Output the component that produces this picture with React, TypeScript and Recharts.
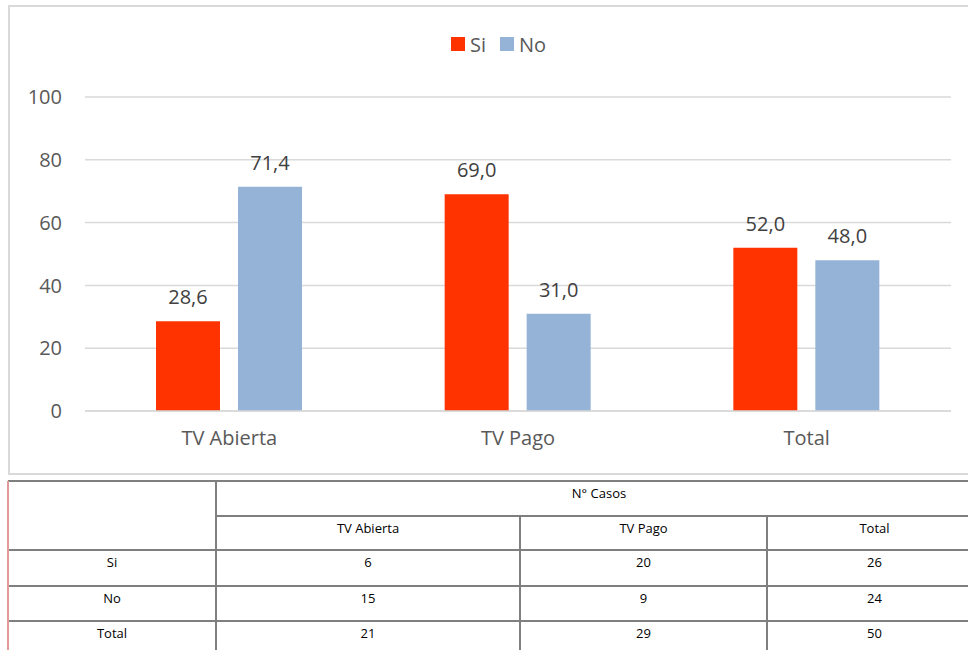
import React from "react";
import { BarChart, Bar, XAxis, YAxis, CartesianGrid, LabelList } from "recharts";

const categories = ["TV Abierta", "TV Pago", "Total"];
const siValues = [28.6, 69.0, 52.0];
const noValues = [71.4, 31.0, 48.0];
const yTicks = [0, 20, 40, 60, 80, 100];
const seriesNames = ["Si", "No"];

const tableTitle = "N° Casos";
const tableRowLabels = ["Si", "No", "Total"];
const casosSi = [6, 20, 26];
const casosNo = [15, 9, 24];
const casosTotal = [21, 29, 50];

const SI_COLOR = "#FF3300";
const NO_COLOR = "#95B3D7";
const GRID = "#d9d9d9";
const TEXT = "#595959";
const FONT = "'Open Sans', sans-serif";

const data = categories.map((c, i) => ({ name: c, Si: siValues[i], No: noValues[i] }));

const fmt = (v: any) => Number(v).toFixed(1).replace(".", ",");

const rowY = [481, 516, 550, 586, 621, 657];
const colX = [8, 216, 520, 767, 982];
const LINE = "#7f7f7f";

export default function App() {
  const tableRows = [casosSi, casosNo, casosTotal];
  const colors = [SI_COLOR, NO_COLOR];
  const hLines: { x1: number; x2: number; y: number }[] = [
    { x1: 8, x2: 982, y: rowY[0] },
    { x1: 216, x2: 982, y: rowY[1] },
    { x1: 8, x2: 982, y: rowY[2] },
    { x1: 8, x2: 982, y: rowY[3] },
    { x1: 8, x2: 982, y: rowY[4] },
    { x1: 8, x2: 982, y: rowY[5] },
  ];
  const cell = (left: number, right: number, top: number, bottom: number, text: string, key: string) => (
    <div
      key={key}
      style={{
        position: "absolute",
        left,
        top: top + 1,
        width: right - left,
        height: bottom - top,
        textAlign: "center",
        fontFamily: FONT,
        fontSize: 13,
        lineHeight: "16px",
        paddingTop: 3,
        boxSizing: "border-box",
        color: "#000",
      }}
    >
      {text}
    </div>
  );
  return (
    <div style={{ position: "absolute", left: 0, top: 0, width: 968, height: 650, overflow: "hidden", background: "#fff" }}>
      <div style={{ position: "absolute", left: 8, top: 5, width: 1000, height: 470, border: `2px solid ${GRID}`, boxSizing: "border-box" }} />
      <div style={{ position: "absolute", left: 0, top: 0 }}>
        <BarChart
          width={968}
          height={480}
          data={data}
          margin={{ top: 97, right: 17, left: 0, bottom: 39 }}
          barSize={64}
          barGap={18}
        >
          <CartesianGrid vertical={false} stroke={GRID} strokeWidth={1.5} />
          <XAxis
            dataKey="name"
            height={30}
            tickLine={false}
            tickSize={0}
            tickMargin={20}
            axisLine={{ stroke: GRID, strokeWidth: 1.5 }}
            tick={{ fill: TEXT, fontSize: 20, fontFamily: FONT }}
          />
          <YAxis
            width={85}
            domain={[0, 100]}
            ticks={yTicks}
            tickLine={false}
            tickSize={0}
            tickMargin={23}
            axisLine={false}
            tick={{ fill: TEXT, fontSize: 20, fontFamily: FONT }}
          />
          <Bar dataKey="Si" fill={SI_COLOR} isAnimationActive={false}>
            <LabelList dataKey="Si" position="top" offset={17} formatter={fmt} style={{ fill: "#404040", fontSize: 20, fontFamily: FONT }} />
          </Bar>
          <Bar dataKey="No" fill={NO_COLOR} isAnimationActive={false}>
            <LabelList dataKey="No" position="top" offset={17} formatter={fmt} style={{ fill: "#404040", fontSize: 20, fontFamily: FONT }} />
          </Bar>
        </BarChart>
      </div>
      {/* legend */}
      <div style={{ position: "absolute", left: 451, top: 30, display: "flex", alignItems: "center", fontFamily: FONT, fontSize: 20, color: TEXT, height: 28 }}>
        {seriesNames.map((label, i) => (
          <div key={label} style={{ display: "flex", alignItems: "center", marginLeft: i ? 14 : 0 }}>
            <span style={{ display: "inline-block", width: 14, height: 14, background: colors[i], marginRight: 5 }} />
            <span>{label}</span>
          </div>
        ))}
      </div>
      {/* table lines */}
      {hLines.map((l, i) => (
        <div key={"h" + i} style={{ position: "absolute", left: l.x1, top: l.y - 1, width: l.x2 - l.x1, height: 2, background: LINE }} />
      ))}
      <div style={{ position: "absolute", left: 7, top: rowY[0], width: 2, height: rowY[5] - rowY[0], background: "#e39a9a" }} />
      <div style={{ position: "absolute", left: 215, top: rowY[0], width: 2, height: rowY[5] - rowY[0], background: LINE }} />
      <div style={{ position: "absolute", left: 519, top: rowY[1], width: 2, height: rowY[5] - rowY[1], background: LINE }} />
      <div style={{ position: "absolute", left: 766, top: rowY[1], width: 2, height: rowY[5] - rowY[1], background: LINE }} />
      {/* table text */}
      {cell(colX[1], colX[4], rowY[0], rowY[1], tableTitle, "title")}
      {categories.map((c, i) => cell(colX[i + 1], colX[i + 2], rowY[1], rowY[2], c, "hdr" + i))}
      {tableRowLabels.map((lab, r) => (
        <React.Fragment key={"r" + r}>
          {cell(colX[0], colX[1], rowY[r + 2], rowY[r + 3], lab, "lab" + r)}
          {tableRows[r].map((v, i) => cell(colX[i + 1], colX[i + 2], rowY[r + 2], rowY[r + 3], String(v), "c" + r + "-" + i))}
        </React.Fragment>
      ))}
    </div>
  );
}
